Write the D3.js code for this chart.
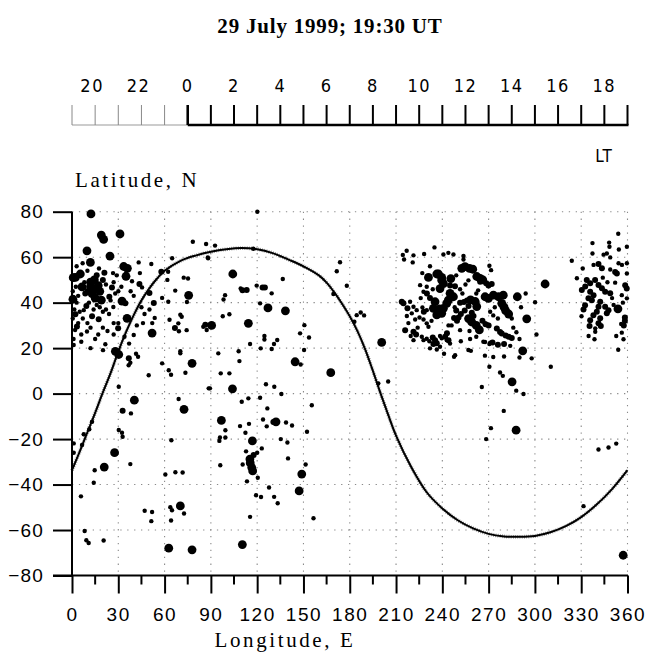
<!DOCTYPE html>
<html><head><meta charset="utf-8">
<script src="https://cdn.jsdelivr.net/npm/d3@7"></script>
<style>
html,body{margin:0;padding:0;background:#fff;}
svg{display:block;}
</style></head>
<body>
<svg id="chart" width="658" height="654"></svg>
<script>
// ---- DATA ----
const titleText = "29 July 1999; 19:30 UT";
const lonTicks = [0,30,60,90,120,150,180,210,240,270,300,330,360];
const latTicks = [-80,-60,-40,-20,0,20,40,60,80];
const ltLabels = [20,22,0,2,4,6,8,10,12,14,16,18];

const curveLon = [0,5,10,15,20,25,30,35,40,45,50,55,60,70,80,90,100,110,120,130,140,150,160,165,170,175,180,185,190,195,200,205,210,220,230,240,250,260,270,280,290,300,310,320,330,340,350,360];
const curveLat = [-33.7,-25.5,-17,-8.5,0.5,9,18.5,27,34.5,41,46.2,50.5,54,58.3,60.7,62.4,63.5,64,63.5,61.8,59,56,52,48.8,44.5,39.5,34,27.5,19.5,10,0,-9.5,-18.5,-32.5,-43.5,-50.5,-55.7,-59.3,-61.7,-62.8,-63,-62.6,-61,-58.3,-54.3,-48.8,-42,-33.7];

const largeDots = [[12.3,79],[19,69.7],[20.5,67.8],[31.1,70.2],[9.7,62.8],[24.6,60.5],[11.9,57.7],[2.2,51.1],[5.4,52.6],[0.8,51],[14.5,50],[12,47],[16,46],[13,44],[18,45],[15,42],[12,49],[17,47.5],[35,51.6],[35.9,55.1],[33.5,55.9],[6.5,46.9],[0.6,41.5],[19,41.1],[32.4,40.7],[35.7,33.1],[51.9,26.6],[28.1,18.6],[30.3,17.2],[75.6,43.2],[27.6,-26],[20.9,-32.3],[40.4,-2.9],[72.6,-6.9],[77.8,13.3],[70.2,-49.4],[62.7,-68],[77.8,-68.7],
[104.2,52.6],[127,37.7],[138.3,36.4],[90.5,30],[114.3,30.9],[144.6,14],[167.7,9.2],[104,2.1],[96.8,-11.8],[116.9,-20.8],[132.2,-12.4],[115.3,-28.8],[115.5,-30.5],[116.5,-32.5],[117.1,-34],[148.9,-35.4],[147.2,-42.8],[110.4,-66.4],[200.7,22.5],
[231,51.1],[237.5,52.6],[245.5,50.6],[239.6,49.9],[240.7,48.4],[238.5,46.2],[245,44.1],[247.2,42.6],[243.9,41.1],[242.9,39.7],[240.7,37.5],[235.3,40.4],[234.2,37.5],[238.1,37.2],[236.4,34.6],[239.6,35.3],[236.4,52.6],[239.6,51.1],[252.6,55.1],[254.7,55.8],[257.6,55.1],[259.7,54.7],[262.3,51.5],[264.5,50.7],[266.2,50],[258.3,41.2],[261.3,40.5],[262.3,38.3],[267.7,42.6],[269.9,41.9],[273.1,43.3],[276.3,42.6],[279.5,43.3],[278.5,39.7],[280,38],[281,36.5],[283,35],[288.6,42.6],[294.7,32.9],[292.1,18.8],[285.2,5.2],[287.8,-16.1],[306.6,48.2],[257,33],[259,31.5],[262,30],[264,28],
[353.8,37.3],[357.2,-71.1]];

const mediumDots = [[21,53.2],[43.7,48.2],[8.6,44],[25.9,46.7],[24.2,42.6],[34.6,39.7],[9.3,38.5],[2.2,34.9],[13,34],[17.3,32.7],[3.2,29.5],[29.9,28.7],[50.2,44.2],[57.9,53.6],[53,39.9],[66.7,28.9],[86.4,30.3],[36.8,15.6],[32.8,-7.5],[10,45],[20,50],[16,52],
[113.2,45.6],[110.5,45.4],[125,46.7],[123.5,46.7],[130.5,-12.5],[117.7,-27],
[213.7,40.4],[214.8,39.7],[217.4,37.5],[215.9,27.9],[221.3,27.2],[223,26],[233.8,24.7],[235.3,23.5],[236.4,22.1],[234.2,21.8],[245,47.5],[248.2,47.2],[263.4,51.4],[264.5,49.2],[268.4,48.5],[269.9,47.5],[272,48.2],[259.1,35.6],[260.2,34.1],[241.8,25],[244,23.5],[243,26.5],[275.3,28.6],[277.4,27.1],[278.5,26.4],[281,25.5],[283,25],[285,24.5],[251.5,40],[254,40.3],[256,41],[257,38.5],[247.6,33.2],[249.5,32],[250.5,33.5],[266,32],[268,30.5],[270,30],[272.5,22.5],[276,21.5],[280,21.8],[228,36],[232,42],[230,44],[249,36.5],[252,35],[254.5,36.5],
[333.6,50],[335.8,48.5],[332.6,47.1],[330.4,45.6],[335.8,44.8],[338,43.3],[334.7,41.9],[336.9,41.1],[332.5,38.9],[331.5,37],[352,53.5],[353.1,52.8],[339,50],[341.2,47.8],[343.4,46.3],[345.5,44.8],[348.8,44.1],[358.5,47.7],[359.5,46.2],[342.3,40.4],[345.5,38.2],[347.7,36.7],[346.6,35.3],[341.2,38.2],[340.1,36],[337.9,34.5],[335.8,32.3],[335.4,29.7],[342.3,33.1],[341.2,30.9],[342.7,29.7],[358.3,33.5],[358.3,32],[357.6,29.9],[341.2,57],[343.4,55.1]];

const smallDots = [[6.9,57.3],[17.5,55],[26.6,53],[43.2,57.7],[51.4,57],[38.9,49.4],[45.4,46.7],[4,43],[25,41],[22,37],[26.8,38.1],[7.6,36.7],[20,36],[24,35],[27,31],[9.7,27.3],[20,29],[23,27.5],[27,26],[30,31],[40,25.8],[21.6,21.7],[20.1,19.1],[41.5,17.5],[42.8,16.2],[1.1,21.4],[1,24],[2,28],[4,31],[6,26],[50.2,37],[62.3,53.6],[61.8,50],[64.9,59.5],[58.4,42.1],[72.4,51],[75.2,50.6],[74.5,40.3],[78.3,66.8],[86.9,65.8],[88,59.9],[66.9,45.3],[70.2,34.7],[63.2,32.5],[69.3,27.4],[53.6,33.3],[52,31],[70.2,18.6],[6,22.8],[37.8,13.6],[36.7,12.5],[49.7,8.1],[58.4,13.3],[62.7,10.3],[64.2,8.3],[70.2,17.7],[73.5,9.2],[88.6,2.3],[30.3,3],[38.2,-8.7],[69.1,-2.4],[30.3,-16],[32.4,-17.2],[32.8,-19],[64.4,-20.5],[1.1,-21.9],[1.1,-26],[7.6,-17.9],[6.5,-22.6],[11.2,-15.7],[13,-12.4],[14.7,-33.7],[14.1,-39.2],[37.8,-31],[60.5,-35.6],[67,-34.6],[71.7,-34.7],[5.8,-45.2],[47.1,-51.5],[51.9,-52.1],[51.4,-56.1],[63.7,-50],[64.8,-51.3],[72.6,-52.7],[64.2,-55.8],[8.2,-60.4],[9.3,-64.5],[10.8,-65.7],[20.5,-64.6],
[0.5,33],[1.5,37],[3,40],[0.5,45],[2.5,47],[5,36],[7,33],[10,31],[12,29],[14,37],[16,39],[18,38],[11,40],[8,49],[28,44],[30,45],[22,48],[27,49],[29,52],[32,47],[38,45],[40,43],[45,38],[47,35],[44,53],[10,54],[3,56],[42,30],[46,31],[34,25],[37,22],[15,24],[17,26],[12,20],[62.4,40.4],[71.1,33.8],[68.9,30.9],[74.3,27.9],[85.1,29.4],
[92.7,65.1],[88.2,59.5],[117.5,63.7],[120.1,80],[109.3,46.2],[119.7,47.5],[129.4,44.1],[136.6,50.4],[99.2,43.3],[98.2,41.4],[121.9,39.7],[97.7,34],[102,34.9],[87.3,28],[124.7,25.3],[124.7,23.8],[115.4,21.8],[133,23.6],[130.9,21.8],[122.3,19.9],[129.4,19.6],[94.8,17.7],[108,18.6],[108.5,14.3],[148.2,12.8],[96.4,8.9],[102,8.9],[89.4,2.3],[125.7,4.1],[131.1,3],[150.6,30.1],[147.8,26.5],[153.6,24.7],[150.4,19.2],[173.7,57.8],[171.6,53.8],[178.1,47.4],[169.4,43.8],[184.5,34.5],[187.1,35.7],[189.3,34.4],[183,31.6],[135.7,-0.2],[110,-3.6],[114.3,-2.1],[121.9,-1.8],[126.6,-6.5],[155.4,-5.1],[108.9,-14.3],[114.7,-13.3],[123.8,-11.4],[138.7,-12.7],[142.6,-14],[126.2,-14.4],[99.4,-16.1],[112.4,-17.2],[152.3,-16.8],[95.9,-19.3],[95.5,-20.8],[99.4,-19.3],[135.3,-20],[139.6,-21.5],[112.8,-25.4],[120,-26],[123,-24.1],[110.6,-31.2],[96.1,-31.5],[140,-28.5],[151.4,-31.2],[120.4,-37],[113.4,-38.6],[127.7,-41.3],[119.3,-44.7],[122.5,-45.5],[131,-45.4],[133.3,-48.2],[115.4,-54.2],[156.5,-54.8],[204.9,5.3],[198.5,4.5],
[216.9,62.8],[214.4,61],[215.2,59],[221.3,60.8],[220.8,57.7],[228.2,61.4],[234.9,64.3],[240.7,61.2],[243.9,61.9],[247.2,61.2],[253.7,60.5],[253.7,59],[270.5,56.2],[271.6,54.3],[225.6,47.7],[227.8,44.8],[229.9,47],[233.8,45.9],[219.1,40.4],[221.3,38.2],[223.4,36.7],[227.1,37.9],[229.9,36.7],[217,34.1],[220.2,35.3],[222.4,32.6],[225.2,33.5],[227.8,32.6],[229.9,30.9],[231,29.4],[219.5,25.3],[221.3,23.5],[226.7,25],[227.8,23.5],[229.9,24.1],[231.6,23],[238.5,25.3],[239.6,24.3],[242.9,23.5],[245,22],[232,19.9],[236.4,19.4],[238.5,20.6],[241.1,17.5],[248.3,16.9],[247.6,16.2],[256.9,19.2],[258.5,18.8],[266.6,22.8],[270.5,21.8],[267.6,16.7],[273,16.1],[280,16.3],[290,15.9],[297.9,15.5],[270.5,11.8],[277.4,9.3],[279.2,7.8],[287.9,1.3],[292.6,-0.2],[265.6,2.9],[279.8,-7.6],[271.5,-15.2],[268.4,-20],[300.1,40.2],[310.3,11.8],[256.9,49.8],[263.2,45.4],[251.5,45.9],[251.5,27.9],[257.6,27.5],[267.7,30.9],[273,34.4],[267.7,22.7],[271,22.4],[248,38],[246,30],[253,44],[286,29],[288,27],[290,24],[284,21],[276,33],[285,33],[291,38],[262,44],[274,38],[271,36],[255,48],[249,52],[232,56],[227,53],[226,42],[224,29],[218,31],[233,32],[244,30],[252,23],[258,24],[262,25],[294,44],[301,26],
[354,70.3],[337.3,66.2],[348.1,66.4],[348.3,64.6],[359.6,64.6],[354.4,63.4],[337.3,61.6],[344.5,61.1],[346.6,61.6],[348.8,59.9],[323.9,58.4],[338,56.6],[348.8,54.6],[354.2,57.3],[356.4,56.6],[359.6,57.3],[359.6,52.8],[327.2,50.7],[352,48.8],[356.3,43.3],[339.1,28.7],[339.1,27.2],[330.2,34],[334.8,25.3],[338.6,23.9],[352.7,25.3],[357.4,23.9],[356.3,26.8],[355.9,30.6],[354,19.3],[359.6,41.9],[357,40],[350,42],[351,39],[344,51],[347,49],[331,55],[341.2,-24.6],[347.7,-23.7],[352.7,-22],[331.5,-49.5]];

// ---- CHART ----
(function(){
const svg = d3.select("#chart");
const pL = 72, pR = 627.5, pT = 211.7, pB = 575.5;
const x = d3.scaleLinear().domain([0,360]).range([pL,pR]);
const y = d3.scaleLinear().domain([-80,80]).range([pB,pT]);
const serif = "'Liberation Serif','Times New Roman',serif";
const sans = "'Liberation Sans',Arial,sans-serif";
const narrow = "'Liberation Sans Narrow','DejaVu Sans Condensed','Liberation Sans',sans-serif";

svg.append("text").attr("x",330).attr("y",33).attr("text-anchor","middle")
  .attr("font-family",serif).attr("font-weight","bold").attr("font-size",21)
  .attr("letter-spacing",0.8).text(titleText);

const ltHours = d3.range(0,25).map(i => (19+i)%24);
const ltX = i => x(i*15);
const ltBase = 125, ltTop = 105;
const lt = svg.append("g");
lt.append("line").attr("x1",ltX(0)).attr("x2",ltX(5)).attr("y1",ltBase).attr("y2",ltBase)
  .attr("stroke","#999").attr("stroke-width",1);
lt.append("line").attr("x1",ltX(5)).attr("x2",ltX(24)+1).attr("y1",ltBase).attr("y2",ltBase)
  .attr("stroke","#000").attr("stroke-width",2.4);
ltHours.forEach((h,i)=>{
  const thin = i<5;
  lt.append("line").attr("x1",ltX(i)).attr("x2",ltX(i)).attr("y1",ltBase).attr("y2",ltTop)
    .attr("stroke",thin?"#888":"#000").attr("stroke-width",thin?1:(i===5?2.6:2));
});
ltHours.forEach((h,i)=>{
  if (i<24 && ltLabels.indexOf(h)>=0 && (i===1||i===3||i>=5)) {
    lt.append("text").attr("x",ltX(i)-(i<5?3:0)).attr("y",92).attr("text-anchor","middle")
      .attr("font-family",narrow).attr("font-size",18).attr("letter-spacing",1.5).text(h);
  }
});
lt.append("text").attr("x",604).attr("y",162).attr("text-anchor","middle")
  .attr("font-family",narrow).attr("font-size",17).attr("letter-spacing",1).text("LT");

svg.append("text").attr("x",75).attr("y",187).attr("font-family",serif).attr("font-size",21)
  .attr("letter-spacing",2.6).text("Latitude, N");
svg.append("text").attr("x",285).attr("y",647).attr("text-anchor","middle").attr("font-family",serif).attr("font-size",21)
  .attr("letter-spacing",2.6).text("Longitude, E");

const grid = svg.append("g").attr("stroke","#8a8a8a").attr("stroke-width",1.1).attr("stroke-dasharray","1.3 5.6");
lonTicks.filter(d=>d>0).forEach(d=>{
  grid.append("line").attr("x1",x(d)).attr("x2",x(d)).attr("y1",y(80)).attr("y2",y(-80));
});
latTicks.filter(d=>d>-80).forEach(d=>{
  grid.append("line").attr("x1",x(0)).attr("x2",x(360)).attr("y1",y(d)).attr("y2",y(d));
});

const yAxis = d3.axisLeft(y).tickValues(latTicks).tickSize(19).tickPadding(9).tickFormat(d3.format("d"));
const gy = svg.append("g").attr("transform",`translate(${pL},0)`).call(yAxis);
gy.select(".domain").attr("stroke-width",2).attr("d",`M0,${pT}V${pB}`);
gy.selectAll(".tick line").attr("stroke-width",2);
gy.selectAll(".tick text").attr("font-family",sans).attr("font-size",19).attr("letter-spacing",1.2).attr("fill","#000");

const xAxis = d3.axisBottom(x).tickValues(lonTicks).tickSize(18).tickPadding(14).tickFormat(d3.format("d"));
const gx = svg.append("g").attr("transform",`translate(0,${pB})`).call(xAxis);
gx.select(".domain").attr("stroke-width",2).attr("d",`M${pL-19},0H${pR+0.5}`);
gx.selectAll(".tick line").attr("stroke-width",2);
gx.selectAll(".tick text").attr("font-family",sans).attr("font-size",19).attr("letter-spacing",1.6).attr("fill","#000");
const minor = d3.range(15,360,30);
svg.append("g").selectAll("line").data(minor).join("line")
  .attr("x1",d=>x(d)).attr("x2",d=>x(d)).attr("y1",pB).attr("y2",pB+9)
  .attr("stroke","#000").attr("stroke-width",2);

const curvePts = curveLon.map((l,i)=>[l,curveLat[i]]);
const line = d3.line().x(d=>x(d[0])).y(d=>y(d[1])).curve(d3.curveCatmullRom);
svg.append("path").datum(curvePts).attr("d",line).attr("fill","none")
  .attr("stroke","#000").attr("stroke-width",2);
svg.append("path").datum(curvePts).attr("d",line).attr("fill","none")
  .attr("stroke","#000").attr("stroke-width",3.8).attr("stroke-dasharray","0.7 1.5").attr("opacity",0.5);

const dots = svg.append("g").attr("fill","#000");
function drawDots(arr, r){
  dots.append("g").selectAll("circle").data(arr).join("circle")
    .attr("cx",d=>x(d[0])).attr("cy",d=>y(d[1])).attr("r",r);
}
drawDots(smallDots,2.2);
drawDots(mediumDots,3);
drawDots(largeDots,4.4);
})();
</script>
</body></html>
